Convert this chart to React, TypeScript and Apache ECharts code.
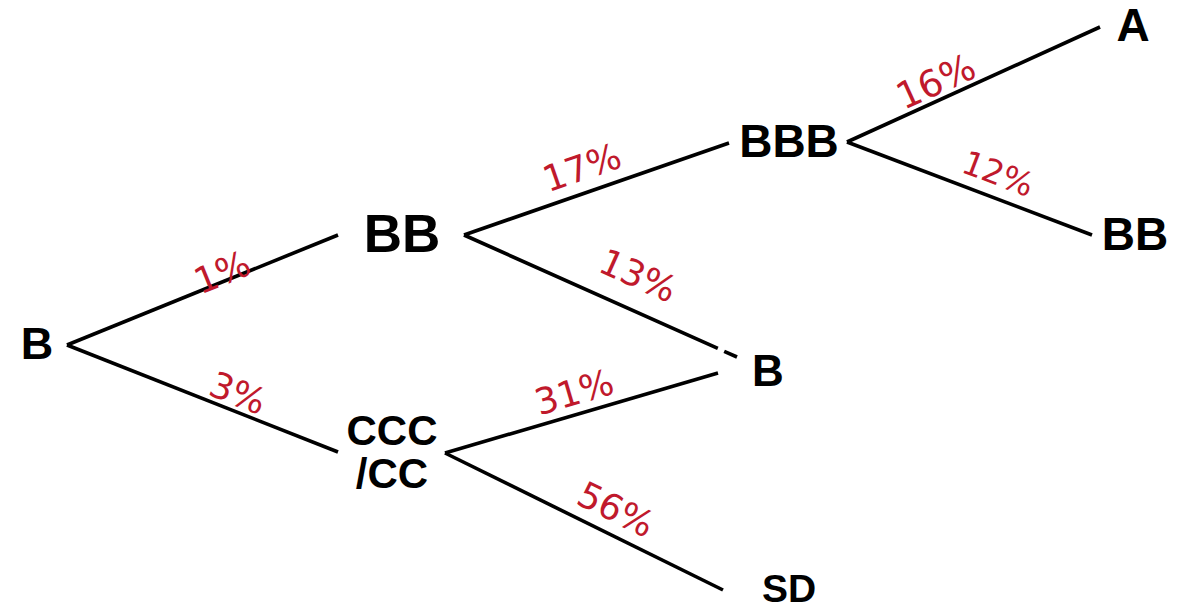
import React, { useEffect, useRef } from 'react';
import * as echarts from 'echarts';

// Rating nodes (label text and label centre in diagram units)
const nodeLabels = ['B', 'BB', 'CCC\n/CC', 'BBB', 'B', 'SD', 'A', 'BB'];
const nodeX = [37, 402, 392, 789, 768, 789, 1133, 1135];
const nodeY = [343, 233, 452, 141, 370, 588, 25, 234];

// Transition branches (start / end in diagram units) and their probabilities
const edgeLabels = ['1%', '3%', '17%', '13%', '31%', '56%', '16%', '12%'];
const edgeFrom = [[67, 345], [67, 345], [464, 235], [464, 235], [445, 453], [445, 453], [847, 142], [847, 142]];
const edgeTo = [[338, 235], [338, 452], [729, 143], [737, 357], [718, 373], [723, 590], [1100, 27], [1092, 235]];

// where each probability sits: fraction along its branch, distance above it
const labelAlong = [0.585, 0.606, 0.476, 0.587, 0.496, 0.575, 0.381, 0.582];
const labelAbove = [9, 18, 25, 34, 22, 25, 18, 24];

// styles
const nodeFontSizes = [45, 53, 42, 46, 44, 39, 46, 46];
const nodeLineHeights = [43, 43, 43, 43, 43, 30, 43, 43];
const edgeFontSizes = [36, 36, 36, 36, 36, 36, 37, 33];
const RED = '#c0192c';

export default function App() {
  const ref = useRef<HTMLDivElement>(null);

  useEffect(() => {
    if (!ref.current) return;
    const chart = echarts.init(ref.current, undefined, { renderer: 'svg' });

    const linesData = edgeFrom.map((f, i) => ({
      coords: [f, edgeTo[i]],
      lineStyle: i === 3 ? { type: [278, 7, 30, 10] } : {},
    }));

    const edgeLabelData = edgeFrom.map((f, i) => {
      const t = edgeTo[i];
      const dx = t[0] - f[0];
      const dy = t[1] - f[1];
      const len = Math.sqrt(dx * dx + dy * dy);
      const ax = dx / len;
      const ay = dy / len;
      // upward normal in screen space
      const nx = ay;
      const ny = -ax;
      const s = labelAlong[i] * len;
      const d = labelAbove[i];
      const px = f[0] + ax * s + nx * d;
      const py = f[1] + ay * s + ny * d;
      const rot = (-Math.atan2(dy, dx) * 180) / Math.PI;
      return {
        value: [px, py],
        name: edgeLabels[i],
        label: { rotate: rot, fontSize: edgeFontSizes[i] },
      };
    });

    const nodeData = nodeLabels.map((n, i) => ({
      value: [nodeX[i], nodeY[i]],
      name: n,
      label: { fontSize: nodeFontSizes[i], lineHeight: nodeLineHeights[i] },
    }));

    chart.setOption({
      animation: false,
      backgroundColor: '#ffffff',
      grid: { left: 0, right: 0, top: 0, bottom: 0 },
      xAxis: { type: 'value', min: 0, max: 1195, show: false },
      yAxis: { type: 'value', min: 0, max: 610, inverse: true, show: false },
      series: [
        {
          type: 'lines',
          coordinateSystem: 'cartesian2d',
          silent: true,
          lineStyle: { color: '#000000', width: 3.6, opacity: 1, curveness: 0, cap: 'butt' },
          data: linesData,
        },
        {
          type: 'scatter',
          symbolSize: 1,
          itemStyle: { color: 'rgba(0,0,0,0)', opacity: 1 },
          silent: true,
          label: {
            show: true,
            position: 'inside',
            align: 'center',
            verticalAlign: 'middle',
            formatter: (p: any) => p.name,
            color: '#000000',
            opacity: 1,
            fontFamily: '"Liberation Sans", Arial, sans-serif',
            fontWeight: 'bold',
          },
          data: nodeData,
        },
        {
          type: 'scatter',
          symbolSize: 1,
          itemStyle: { color: 'rgba(0,0,0,0)', opacity: 1 },
          silent: true,
          label: {
            show: true,
            position: 'inside',
            align: 'center',
            verticalAlign: 'middle',
            formatter: (p: any) => p.name,
            color: RED,
            opacity: 1,
            fontFamily: '"DejaVu Sans", sans-serif',
            fontWeight: 'normal',
          },
          data: edgeLabelData,
        },
      ],
    });

    return () => {
      chart.dispose();
    };
  }, []);

  return (
    <div
      ref={ref}
      style={{ position: 'absolute', left: 0, top: 0, width: 1195, height: 610 }}
    />
  );
}
